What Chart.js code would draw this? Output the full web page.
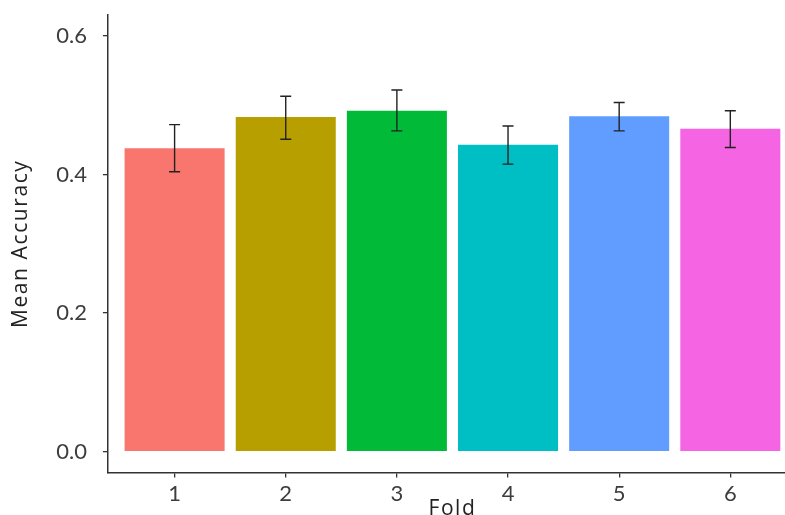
<!DOCTYPE html>
<html>
<head>
<meta charset="utf-8">
<script src="https://cdn.jsdelivr.net/npm/chart.js@4.4.1/dist/chart.umd.min.js"></script>
<style>
  html, body { margin: 0; padding: 0; background: #ffffff; overflow: hidden; }
  #wrap { width: 785px; height: 515px; overflow: hidden; position: relative; }
  #chart { position: absolute; left: 0; top: -14px; }
</style>
</head>
<body>
<div id="wrap"><canvas id="chart" width="797" height="536"></canvas></div>
<script>
// Mean accuracy per cross-validation fold, with error-bar bounds
const folds = [1, 2, 3, 4, 5, 6];
const meanAccuracy = [0.438, 0.483, 0.492, 0.443, 0.484, 0.466];
const errLower = [0.404, 0.451, 0.463, 0.415, 0.463, 0.439];
const errUpper = [0.472, 0.513, 0.522, 0.470, 0.504, 0.492];
const yTickValues = [0.0, 0.2, 0.4, 0.6];
const foldColors = ['#F8766D', '#B79F00', '#00BA38', '#00BFC4', '#619CFF', '#F564E3'];

const TICK_FONT = 'Lato, "Open Sans", sans-serif';
const TITLE_FONT = '"Open Sans", Lato, sans-serif';

// Axis titles get a little letter spacing; tick labels are drawn on a later layer without it
const titleSpacing = {
  id: 'titleSpacing',
  beforeDraw(chart) { chart.ctx.letterSpacing = '1.6px'; },
  beforeDatasetsDraw(chart) { chart.ctx.letterSpacing = '0px'; }
};

// Draws the vertical error bars with end caps on top of each bar
const errorBars = {
  id: 'errorBars',
  afterDatasetsDraw(chart) {
    const { ctx, scales: { x, y } } = chart;
    ctx.save();
    ctx.strokeStyle = '#222222';
    ctx.lineWidth = 1.4;
    const cap = 5.5;
    folds.forEach((f, i) => {
      const px = x.getPixelForValue(f);
      const yLo = y.getPixelForValue(errLower[i]);
      const yHi = y.getPixelForValue(errUpper[i]);
      ctx.beginPath();
      ctx.moveTo(px, yLo); ctx.lineTo(px, yHi);
      ctx.moveTo(px - cap, yLo); ctx.lineTo(px + cap, yLo);
      ctx.moveTo(px - cap, yHi); ctx.lineTo(px + cap, yHi);
      ctx.stroke();
    });
    ctx.restore();
  }
};

new Chart(document.getElementById('chart'), {
  type: 'bar',
  data: {
    datasets: [{
      data: folds.map((f, i) => ({ x: f, y: meanAccuracy[i] })),
      backgroundColor: foldColors,
      borderWidth: 0,
      categoryPercentage: 1.0,
      barPercentage: 0.9
    }]
  },
  options: {
    responsive: false,
    animation: false,
    layout: { padding: { left: 8, right: 0, top: 0, bottom: 0 } },
    plugins: { legend: { display: false }, tooltip: { enabled: false } },
    scales: {
      x: {
        type: 'linear',
        offset: false,
        min: 0.4,
        max: 6.6,
        afterBuildTicks: (axis) => { axis.ticks = folds.map(v => ({ value: v })); },
        ticks: {
          z: 1,
          callback: (v) => String(v),
          font: { family: TICK_FONT, size: 22 },
          color: '#3d3d3d',
          padding: 3,
          maxRotation: 0,
          autoSkip: false
        },
        grid: { offset: false, drawOnChartArea: false, drawTicks: true, tickLength: 5, color: '#333333', lineWidth: 1.3 },
        border: { display: true, color: '#333333', width: 1.5 },
        title: {
          display: true,
          text: 'Fold',
          font: { family: TITLE_FONT, size: 21 },
          color: '#222222',
          padding: { top: -13, bottom: 0 }
        }
      },
      y: {
        type: 'linear',
        min: -0.03,
        max: 0.63,
        afterBuildTicks: (axis) => { axis.ticks = yTickValues.map(v => ({ value: v })); },
        ticks: {
          z: 1,
          callback: (v) => Number(v).toFixed(1),
          font: { family: TICK_FONT, size: 22 },
          color: '#3d3d3d',
          padding: 16
        },
        grid: { drawOnChartArea: false, drawTicks: true, tickLength: 5, color: '#333333', lineWidth: 1.3 },
        border: { display: true, color: '#333333', width: 1.5 },
        title: {
          display: true,
          text: 'Mean Accuracy',
          font: { family: TITLE_FONT, size: 21 },
          color: '#222222',
          padding: { top: 0, bottom: 7 }
        }
      }
    }
  },
  plugins: [titleSpacing, errorBars]
});
</script>
</body>
</html>
